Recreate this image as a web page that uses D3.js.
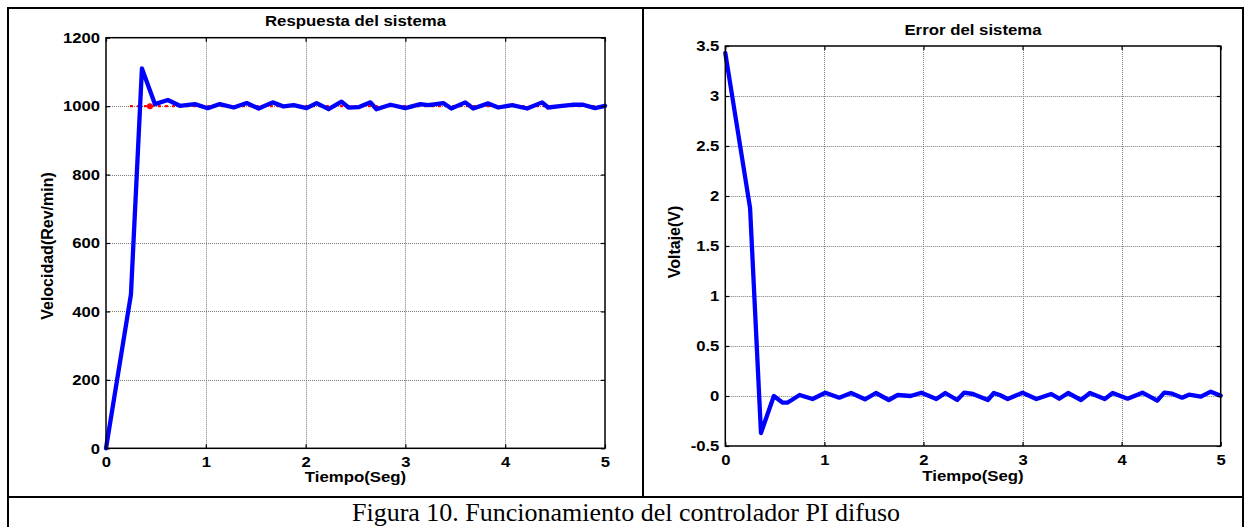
<!DOCTYPE html>
<html><head><meta charset="utf-8">
<script src="https://cdn.jsdelivr.net/npm/d3@7"></script>
<style>html,body{margin:0;padding:0;background:#fff;}svg{display:block;}</style>
</head><body>
<svg id="chart" width="1252" height="527"></svg>
<script>
// ---- Data ----
const xTicks = [0, 1, 2, 3, 4, 5];
const speedTicks = [0, 200, 400, 600, 800, 1000, 1200];
const errTicks = [-0.5, 0, 0.5, 1, 1.5, 2, 2.5, 3, 3.5];

const tSpeed = [0,0.25,0.36,0.49,0.62,0.74,0.89,1.02,1.14,1.28,1.41,1.53,1.67,1.78,1.88,2.01,2.11,2.23,2.36,2.43,2.53,2.65,2.71,2.85,3.0,3.15,3.23,3.38,3.46,3.6,3.68,3.83,3.93,4.07,4.22,4.37,4.43,4.57,4.67,4.78,4.9,5.0];
const speed = [0,450,1110,1006,1018,1001,1006,994,1006,996,1009,993,1011,999,1003,994,1009,991,1013,996,997,1011,991,1004,994,1006,1003,1009,993,1011,993,1008,996,1003,993,1011,996,1001,1004,1004,994,1001];

const tRef = [0.25, 5];
const reference = [1000, 1000];
const tRefMark = [0.44];
const refMark = [1000];

const tErr = [0,0.25,0.36,0.49,0.58,0.63,0.75,0.88,1.01,1.15,1.27,1.41,1.52,1.65,1.74,1.87,1.98,2.13,2.22,2.34,2.41,2.5,2.65,2.71,2.77,2.85,3.0,3.14,3.29,3.37,3.46,3.59,3.68,3.83,3.91,4.06,4.21,4.36,4.43,4.51,4.61,4.68,4.8,4.9,5.0];
const err = [3.43,1.88,-0.37,0,-0.067,-0.065,0.01,-0.03,0.033,-0.017,0.03,-0.033,0.03,-0.04,0.01,0,0.033,-0.03,0.03,-0.04,0.033,0.02,-0.04,0.03,0.01,-0.03,0.033,-0.03,0.02,-0.027,0.03,-0.04,0.03,-0.03,0.03,-0.027,0.033,-0.047,0.033,0.023,-0.017,0.013,-0.007,0.043,0.003];

const titles = ["Respuesta del sistema", "Error del sistema"];
const xLabel = "Tiempo(Seg)";
const yLabels = ["Velocidad(Rev/min)", "Voltaje(V)"];
const caption = "Figura 10. Funcionamiento del controlador PI difuso";

// ---- Drawing ----
const svg = d3.select("#chart");
const SX = 1.2;      // horizontal stretch of titles / labels
const SXT = 1.11;    // horizontal stretch of tick labels
const FONT = "'Liberation Sans', Arial, sans-serif";

// table frame
const frame = svg.append("g").attr("fill", "none").attr("stroke", "#000").attr("stroke-width", 2);
frame.append("rect").attr("x", 8).attr("y", 8).attr("width", 1235).attr("height", 530);
frame.append("line").attr("x1", 643).attr("x2", 643).attr("y1", 8).attr("y2", 497);
frame.append("line").attr("x1", 8).attr("x2", 1243).attr("y1", 497).attr("y2", 497);

function stretchedText(g, x, y, txt, opts) {
  return g.append("text")
    .attr("transform", `translate(${x},${y}) scale(${SX},1)`)
    .attr("font-family", FONT).attr("font-weight", "bold")
    .attr("font-size", opts.size || 14)
    .attr("text-anchor", opts.anchor || "middle")
    .attr("fill", "#000").text(txt);
}

function drawPlot(cfg) {
  const g = svg.append("g");
  const x = d3.scaleLinear().domain([0, 5]).range([cfg.x0, cfg.x1]);
  const y = d3.scaleLinear().domain(cfg.yDomain).range([cfg.y0, cfg.y1]);

  // grid
  const grid = g.append("g").attr("stroke", "#7a7a7a").attr("stroke-width", 1).attr("stroke-dasharray", "1,1");
  grid.selectAll("line.v").data(xTicks.slice(1, -1)).join("line")
    .attr("x1", d => Math.round(x(d)) + 0.5).attr("x2", d => Math.round(x(d)) + 0.5)
    .attr("y1", cfg.y1).attr("y2", cfg.y0);
  grid.selectAll("line.h").data(cfg.yTicks.slice(1, -1)).join("line")
    .attr("y1", d => Math.round(y(d)) + 0.5).attr("y2", d => Math.round(y(d)) + 0.5)
    .attr("x1", cfg.x0).attr("x2", cfg.x1);

  // reference (red dotted)
  if (cfg.ref) {
    const refData = cfg.ref.t.map((t, i) => [t, cfg.ref.v[i]]);
    g.append("path").datum(refData)
      .attr("d", d3.line().x(d => x(d[0])).y(d => y(d[1])))
      .attr("fill", "none").attr("stroke", "#ff0000").attr("stroke-width", 2.4)
      .attr("stroke-dasharray", "1,6").attr("stroke-linecap", "round");
    g.selectAll("circle.mark").data(cfg.ref.markT.map((t, i) => [t, cfg.ref.markV[i]])).join("circle")
      .attr("cx", d => x(d[0])).attr("cy", d => y(d[1])).attr("r", 3).attr("fill", "#ff0000");
  }

  // series
  const data = cfg.t.map((t, i) => [t, cfg.v[i]]);
  g.append("path").datum(data)
    .attr("d", d3.line().x(d => x(d[0])).y(d => y(d[1])))
    .attr("fill", "none").attr("stroke", "#0000ff").attr("stroke-width", 4.3)
    .attr("stroke-linejoin", "round").attr("stroke-linecap", "round");

  // box
  g.append("rect").attr("x", cfg.x0).attr("y", cfg.y1)
    .attr("width", cfg.x1 - cfg.x0).attr("height", cfg.y0 - cfg.y1)
    .attr("fill", "none").attr("stroke", "#000").attr("stroke-width", 1.5);

  // axes
  const xa = g.append("g").attr("transform", `translate(0,${cfg.y0})`)
    .call(d3.axisBottom(x).tickValues(xTicks).tickSizeInner(-4).tickSizeOuter(0).tickPadding(8).tickFormat(d3.format("d")));
  const xaTop = g.append("g").attr("transform", `translate(0,${cfg.y1})`)
    .call(d3.axisTop(x).tickValues(xTicks).tickSizeInner(-4).tickSizeOuter(0).tickFormat(""));
  const ya = g.append("g").attr("transform", `translate(${cfg.x0},0)`)
    .call(d3.axisLeft(y).tickValues(cfg.yTicks).tickSizeInner(-4).tickSizeOuter(0).tickPadding(6).tickFormat(d => String(d)));
  const yaR = g.append("g").attr("transform", `translate(${cfg.x1},0)`)
    .call(d3.axisRight(y).tickValues(cfg.yTicks).tickSizeInner(-4).tickSizeOuter(0).tickFormat(""));
  [xa, xaTop, ya, yaR].forEach(a => {
    a.select(".domain").remove();
    a.selectAll(".tick line").attr("stroke", "#000").attr("stroke-width", 1.2);
  });
  xa.selectAll("text").attr("font-family", FONT).attr("font-weight", "bold").attr("font-size", 15)
    .attr("fill", "#000")
    .attr("transform", `scale(${SXT},1)`);
  ya.selectAll("text").attr("font-family", FONT).attr("font-weight", "bold").attr("font-size", 15)
    .attr("fill", "#000")
    .each(function () {
      const t = d3.select(this);
      t.attr("x", +t.attr("x") / SXT).attr("transform", `scale(${SXT},1)`);
    });

  // title
  stretchedText(g, (cfg.x0 + cfg.x1) / 2, cfg.titleY, cfg.title, { size: 14 });
  // x label
  stretchedText(g, (cfg.x0 + cfg.x1) / 2, cfg.xLabelY, xLabel, { size: 14 });
  // y label
  g.append("text")
    .attr("transform", `translate(${cfg.yLabelX},${cfg.yLabelY}) rotate(-90)`)
    .attr("font-family", FONT).attr("font-weight", "bold").attr("font-size", 16)
    .attr("text-anchor", "middle").attr("fill", "#000").text(cfg.yLabel);
}

drawPlot({
  x0: 106, x1: 605, y0: 448.3, y1: 37.7, yDomain: [0, 1200], yTicks: speedTicks,
  t: tSpeed, v: speed, title: titles[0], titleY: 26, xLabelY: 482, yLabel: yLabels[0], yLabelX: 53, yLabelY: 246,
  ref: { t: tRef, v: reference, markT: tRefMark, markV: refMark }
});
drawPlot({
  x0: 725.3, x1: 1220.7, y0: 446, y1: 46, yDomain: [-0.5, 3.5], yTicks: errTicks,
  t: tErr, v: err, title: titles[1], titleY: 35, xLabelY: 481, yLabel: yLabels[1], yLabelX: 680, yLabelY: 242
});

// caption
svg.append("text").attr("x", 626).attr("y", 521)
  .attr("font-family", "'Liberation Serif', 'Times New Roman', serif").attr("font-size", 26)
  .attr("text-anchor", "middle").attr("fill", "#000").text(caption);
</script>
</body></html>
